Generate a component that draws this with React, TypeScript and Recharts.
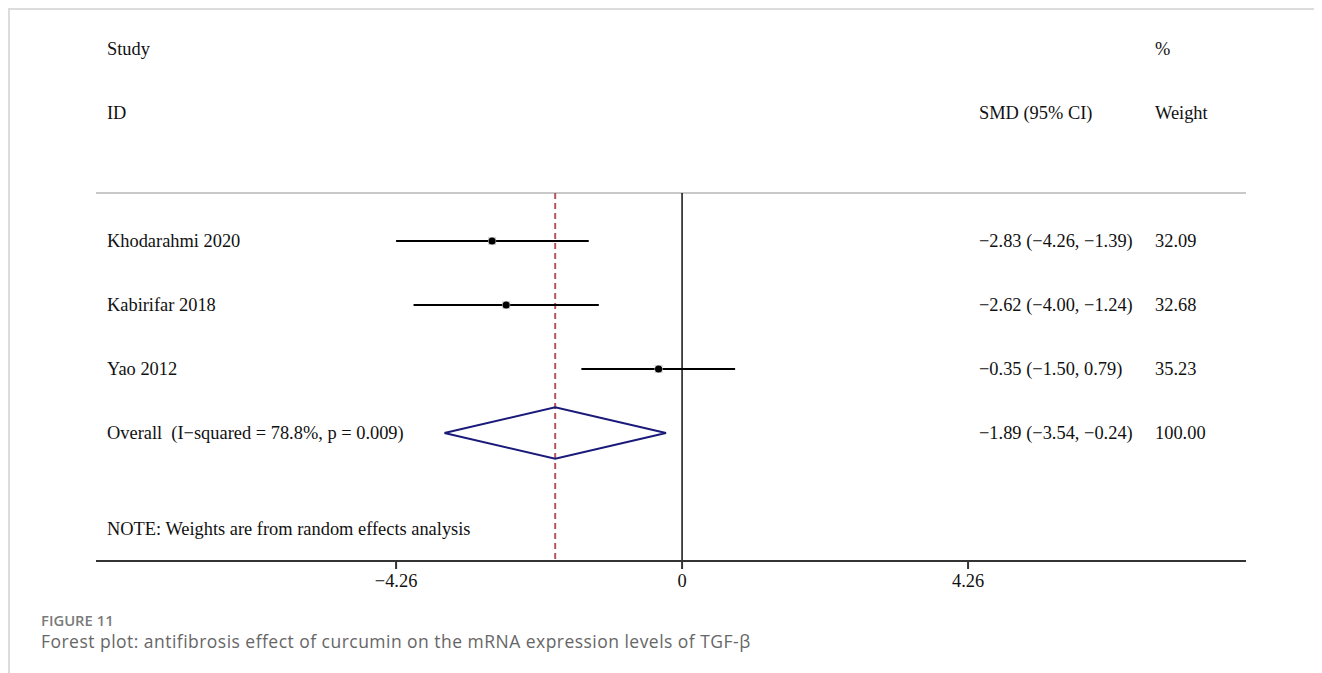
import React from 'react';
import { ComposedChart, Scatter, ErrorBar, XAxis, YAxis, ReferenceLine } from 'recharts';

// study-level estimates (standardised mean difference, 95% CI, % weight)
const studies = ['Khodarahmi 2020', 'Kabirifar 2018', 'Yao 2012'];
const smd = [-2.83, -2.62, -0.35];
const ciLow = [-4.26, -4.0, -1.5];
const ciHigh = [-1.39, -1.24, 0.79];
const weights = [32.09, 32.68, 35.23];

// pooled random-effects estimate
const overallLabel = 'Overall  (I\u2212squared = 78.8%, p = 0.009)';
const overallSmd = -1.89;
const overallLow = -3.54;
const overallHigh = -0.24;
const overallWeight = 100;

const xTicks = [-4.26, 0, 4.26];
const note = 'NOTE: Weights are from random effects analysis';

const SERIF = '"Liberation Serif", "Times New Roman", serif';
const FONT_SIZE = 18.4;
const W = 1312;
const H = 590;
const COL_STUDY = 97;
const COL_SMD = 969;
const COL_WEIGHT = 1145;
const DIAMOND_HALF = 0.4;
const HEADER_LINE = 0.25;
const AXIS_BOTTOM = 6;

const fmt = (v: number) => v.toFixed(2).replace('-', '\u2212');

const studyPoints = studies.map((name, i) => ({
  name,
  x: smd[i],
  y: i + 1,
  err: [smd[i] - ciLow[i], ciHigh[i] - smd[i]],
}));

const overallRow = studies.length + 1;
const diamond = [
  { x: overallLow, y: overallRow },
  { x: overallSmd, y: overallRow - DIAMOND_HALF },
  { x: overallHigh, y: overallRow },
  { x: overallSmd, y: overallRow + DIAMOND_HALF },
  { x: overallLow, y: overallRow },
];

const tableRows = [
  { x: 0, y: -2, left: 'Study', mid: '', right: '%' },
  { x: 0, y: -1, left: 'ID', mid: 'SMD (95% CI)', right: 'Weight' },
  ...studies.map((name, i) => ({
    x: 0,
    y: i + 1,
    left: name,
    mid: `${fmt(smd[i])} (${fmt(ciLow[i])}, ${fmt(ciHigh[i])})`,
    right: weights[i].toFixed(2),
  })),
  {
    x: 0,
    y: overallRow,
    left: overallLabel,
    mid: `${fmt(overallSmd)} (${fmt(overallLow)}, ${fmt(overallHigh)})`,
    right: overallWeight.toFixed(2),
  },
  { x: 0, y: 5.5, left: note, mid: '', right: '' },
];

const TextRow = (props: any) => {
  const { cy, payload } = props;
  return (
    <g fontFamily={SERIF} fontSize={FONT_SIZE} fill="#111">
      <text x={COL_STUDY} y={cy} dominantBaseline="central" style={{ whiteSpace: 'pre' }}>
        {payload.left}
      </text>
      <text x={COL_SMD} y={cy} dominantBaseline="central">{payload.mid}</text>
      <text x={COL_WEIGHT} y={cy} dominantBaseline="central">{payload.right}</text>
    </g>
  );
};

const StudyMarker = (props: any) => {
  const { cx, cy } = props;
  return (
    <g>
      <rect x={cx - 4} y={cy - 4} width={8} height={8} fill="#d4d4d4" />
      <circle cx={cx} cy={cy} r={3.6} fill="#000" />
    </g>
  );
};

const NoMarker = () => <g />;

export default function App() {
  return (
    <div
      style={{
        borderTop: '2px solid #dcdcdc',
        borderLeft: '2px solid #dcdcdc',
        height: 663,
        width: 1312,
        background: '#fff',
      }}
    >
      <ComposedChart width={W} height={H} margin={{ top: 7, right: 76, bottom: 9, left: 86 }}>
        <XAxis
          type="number"
          dataKey="x"
          domain={[-8.73, 8.4]}
          ticks={xTicks}
          allowDataOverflow
          interval={0}
          height={30}
          tickSize={8}
          tickMargin={5}
          axisLine={{ stroke: '#333', strokeWidth: 2 }}
          tickLine={{ stroke: '#333', strokeWidth: 2 }}
          tick={{ fontFamily: SERIF, fontSize: FONT_SIZE, fill: '#111' }}
          tickFormatter={(v: number) => String(v).replace('-', '\u2212')}
        />
        <YAxis type="number" dataKey="y" domain={[-2.5, AXIS_BOTTOM]} reversed hide allowDataOverflow />
        <ReferenceLine y={HEADER_LINE} stroke="#c8c8c8" strokeWidth={2} />
        <ReferenceLine
          segment={[
            { x: 0, y: HEADER_LINE },
            { x: 0, y: AXIS_BOTTOM },
          ]}
          stroke="#111"
          strokeWidth={1.5}
        />
        <ReferenceLine
          segment={[
            { x: overallSmd, y: HEADER_LINE },
            { x: overallSmd, y: AXIS_BOTTOM },
          ]}
          stroke="#b4545c"
          strokeWidth={2}
          strokeDasharray="6 4"
        />
        <Scatter data={tableRows} shape={TextRow} isAnimationActive={false} />
        <Scatter data={studyPoints} shape={StudyMarker} isAnimationActive={false}>
          <ErrorBar dataKey="err" direction="x" width={0} stroke="#000" strokeWidth={2} />
        </Scatter>
        <Scatter
          data={diamond}
          shape={NoMarker}
          line={{ stroke: '#1a1a7a', strokeWidth: 2 }}
          lineType="joint"
          isAnimationActive={false}
        />
      </ComposedChart>
      <div style={{ paddingLeft: 31, marginTop: 10, fontFamily: '"Open Sans", sans-serif' }}>
        <div style={{ fontSize: 14.8, fontWeight: 600, color: '#7a7a7a', lineHeight: '20px' }}>FIGURE 11</div>
        <div style={{ fontSize: 17.5, color: '#666', lineHeight: '22px', letterSpacing: 0.47 }}>
          Forest plot: antifibrosis effect of curcumin on the mRNA expression levels of TGF-β
        </div>
      </div>
    </div>
  );
}
